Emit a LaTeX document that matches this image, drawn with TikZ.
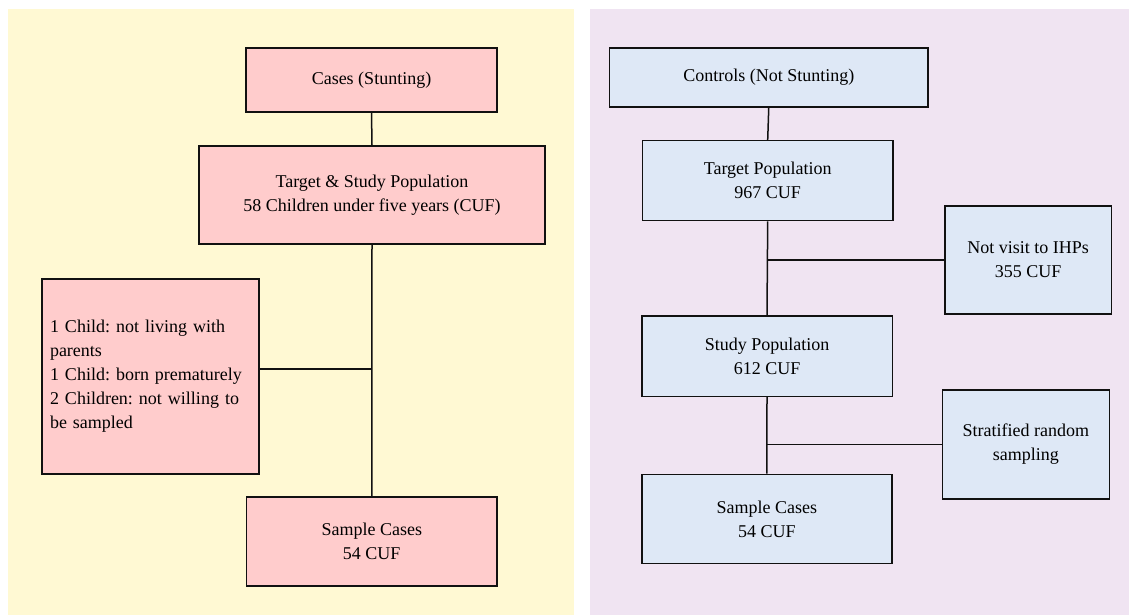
\documentclass[tikz,border=0pt]{standalone}
\usepackage{fontspec}
\setmainfont{Liberation Serif}
\frenchspacing
\definecolor{panelY}{HTML}{FFF9D3}
\definecolor{panelP}{HTML}{F0E4F2}
\definecolor{boxPink}{HTML}{FFCCCC}
\definecolor{boxBlue}{HTML}{DEE8F6}
\definecolor{edge}{HTML}{111111}
\tikzset{
  base/.style={draw=edge, line width=1.5pt, rectangle, inner sep=0pt, align=center,
    font=\fontsize{18}{24}\selectfont\frenchspacing},
  pinkbox/.style={base, fill=boxPink},
  bluebox/.style={base, fill=boxBlue},
  conn/.style={draw=edge, line width=1.5pt}
}
\begin{document}
\begin{tikzpicture}[x=1pt,y=-1pt]
\useasboundingbox (0,0) rectangle (1130,615);
\fill[panelY] (8,9) rectangle (573.5,615);
\fill[panelP] (590,9) rectangle (1129,615);

% Left: cases
\node[pinkbox, minimum width=251pt, minimum height=64pt] (cases) at (371.5,80) {Cases (Stunting)};
\node[pinkbox, minimum width=346pt, minimum height=98pt] (tsp) at (372,195) {Target \& Study Population\\58 Children under five years (CUF)};
\node[pinkbox, inner xsep=8pt, text width=201pt, minimum height=195pt, align=left] (excl) at (150.5,376.5) {1 Child: not living with\\parents\\1 Child: born prematurely\\2 Children: not willing to\\be sampled};
\node[pinkbox, minimum width=250.5pt, minimum height=89pt] (sampA) at (371.75,541.5) {Sample Cases\\54 CUF};

\draw[conn] (cases.south) -- (tsp.north);
\draw[conn] (tsp.south) -- (sampA.north);
\coordinate (jA) at (371.75,369);
\draw[conn] (jA) -- (jA -| excl.east);

% Right: controls
\node[bluebox, minimum width=318.5pt, minimum height=59pt] (ctrl) at (768.75,77.5) {Controls (Not Stunting)};
\node[bluebox, minimum width=250.5pt, minimum height=80pt] (tpop) at (767.7,180.7) {Target Population\\967 CUF};
\node[bluebox, minimum width=166.5pt, minimum height=108.3pt] (nv) at (1028.2,259.9) {Not visit to IHPs\\355 CUF};
\node[bluebox, minimum width=250.5pt, minimum height=80.3pt] (spop) at (767,356.2) {Study Population\\612 CUF};
\node[bluebox, minimum width=167pt, minimum height=109pt] (strat) at (1025.8,444.5) {Stratified random\\sampling};
\node[bluebox, minimum width=250.3pt, minimum height=89.4pt] (sampB) at (766.9,519) {Sample Cases\\54 CUF};

\draw[conn] (ctrl.south) -- (tpop.north);
\draw[conn] (tpop.south) -- (spop.north);
\draw[conn] (spop.south) -- (sampB.north);
\coordinate (jB) at (767.4,259.9);
\draw[conn] (jB) -- (nv.west);
\coordinate (jC) at (766.95,444.5);
\draw[conn] (jC) -- (strat.west);
\end{tikzpicture}
\end{document}
